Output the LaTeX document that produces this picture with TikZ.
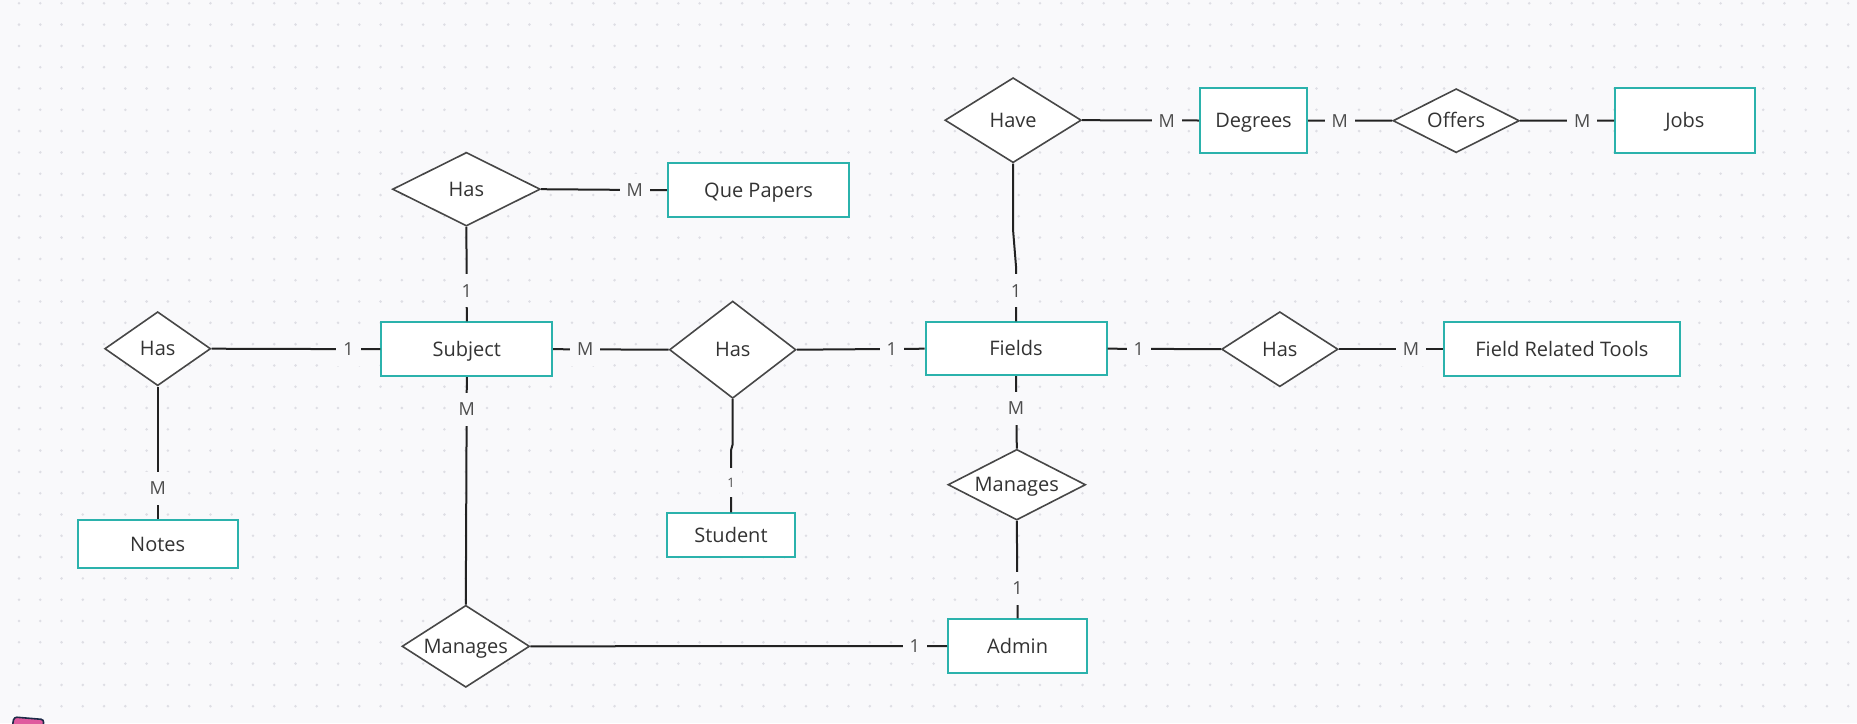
\documentclass[tikz,border=0pt]{standalone}
\usepackage{fontspec}
\setmainfont{Open Sans}
\usetikzlibrary{shapes.geometric,calc}
\definecolor{bgc}{HTML}{F9F9FB}
\definecolor{dotc}{HTML}{DEDEE4}
\definecolor{tealc}{HTML}{2BB2AC}
\definecolor{dgray}{HTML}{474747}
\definecolor{txtc}{HTML}{333333}
\definecolor{lblc}{HTML}{4D4D4D}
\definecolor{lnc}{HTML}{222222}
\definecolor{pinkc}{HTML}{DF5A9E}
\definecolor{navyc}{HTML}{1E2A48}
\newcommand\zwbox[1]{\makebox[0pt]{#1}}
\tikzset{
  entbox/.style 2 args={rectangle, draw=tealc, line width=1pt, fill=white,
    minimum width=#1*0.5pt, minimum height=#2*0.5pt, inner sep=0pt,
    font=\fontsize{10}{12}\selectfont, text=txtc, text height=7.2pt, text depth=0pt},
  relshape/.style 2 args={diamond, draw=dgray, line width=0.8pt, fill=white,
    minimum width=#1*0.5pt, minimum height=#2*0.5pt, inner sep=0pt,
    font=\fontsize{10}{12}\selectfont, text=txtc, text height=7.2pt, text depth=0pt},
  conn/.style={draw=lnc, line width=1pt},
  card/.style={fill=bgc, text=lblc, font=\fontsize{9}{11}\selectfont,
    inner xsep=3.5pt, inner ysep=5pt, text height=6.5pt, text depth=0pt},
  smallcard/.style={card, font=\fontsize{6.5}{8}\selectfont, text height=4.8pt, inner ysep=5pt}
}
\begin{document}
\begin{tikzpicture}[x=0.5pt,y=-0.5pt]
\useasboundingbox (0,0) rectangle (1857,723);
\clip (0,0) rectangle (1857,723);
\fill[bgc] (0,0) rectangle (1857,723);
\foreach \i in {0,...,86}{\foreach \j in {0,...,33}{\fill[dotc] ({19+21.27*\i},{3.3+21.3*\j}) circle (0.7pt);}}

% entities
\node[entbox={170.8}{53.7}] (subj) at (466.8,349.2) {Subject};
\node[entbox={181.4}{54.3}] (qp) at (758.5,190.2) {Que Papers};
\node[entbox={107.4}{64.4}] (deg) at (1253.5,120.5) {Degrees};
\node[entbox={139.5}{64.4}] (jobs) at (1684.9,120.5) {Jobs};
\node[entbox={181}{52.7}] (fld) at (1016,348.7) {Fields};
\node[entbox={235.2}{53.7}] (frt) at (1561.9,349.2) {Field Related Tools};
\node[entbox={159.6}{48.3}] (notes) at (157.7,544.2) {Notes};
\node[entbox={127.3}{44}] (stu) at (731,535.3) {Student};
\node[entbox={139.2}{53.4}] (adm) at (1017.6,646) {Admin};

% relationships
\node[relshape={106}{74}] (hasL) at (157.7,348.7) {\zwbox{Has}};
\node[relshape={147.8}{73.7}] (hasT) at (466.4,189.2) {\zwbox{Has}};
\node[relshape={126.5}{97.3}] (hasM) at (732.7,349.7) {\zwbox{Has}};
\node[relshape={116.4}{75}] (hasR) at (1279.8,349.2) {\zwbox{Has}};
\node[relshape={136.4}{85}] (have) at (1013.1,120.2) {\zwbox{Have}};
\node[relshape={126.4}{64}] (offers) at (1456.2,120.7) {\zwbox{Offers}};
\node[relshape={127.6}{82}] (manL) at (465.8,646.3) {\zwbox{Manages}};
\node[relshape={137.6}{70.7}] (manR) at (1016.8,484.7) {\zwbox{Manages}};

% connectors
\draw[conn] (hasL.east) -- (subj.west);
\draw[conn] (hasL.south) -- (notes.north);
\draw[conn] (hasT.south) -- (subj.north);
\draw[conn] (hasT.east) -- (qp.west);
\draw[conn] (subj.east) -- (hasM.west);
\draw[conn] (hasM.east) -- (fld.west);
\draw[conn] (hasM.south) -- ++(0,45) -- ($(stu.north)+(0,-62)$) -- (stu.north);
\draw[conn] (have.south) -- ++(0,67) -- ($(fld.north)+(0,-55)$) -- (fld.north);
\draw[conn] (have.east) -- (deg.west);
\draw[conn] (deg.east) -- (offers.west);
\draw[conn] (offers.east) -- (jobs.west);
\draw[conn] (fld.east) -- (hasR.west);
\draw[conn] (hasR.east) -- (frt.west);
\draw[conn] (fld.south) -- (manR.north);
\draw[conn] (manR.south) -- (adm.north);
\draw[conn] (subj.south) -- (manL.north);
\draw[conn] (manL.east) -- (adm.west);

% cardinality labels
\node[card] (c1) at ($(subj.west)+(-32,0)$) {1};
\node[card] (c2) at ($(notes.north)+(0,-31)$) {M};
\node[card] (c3) at ($(subj.north)+(0,-30.6)$) {1};
\node[card] (c4) at ($(qp.west)+(-32,0)$) {M};
\node[card] (c5) at ($(subj.east)+(32,0)$) {M};
\node[card] (c6) at ($(fld.west)+(-32.8,0)$) {1};
\node[smallcard] (c7) at ($(stu.north)+(0,-30)$) {1};
\node[card] (c8) at ($(fld.north)+(0,-30.6)$) {1};
\node[card] (c9) at ($(deg.west)+(-32,0)$) {M};
\node[card] (c10) at ($(deg.east)+(31.6,0)$) {M};
\node[card] (c11) at ($(jobs.west)+(-32,0)$) {M};
\node[card] (c12) at ($(fld.east)+(31.2,0)$) {1};
\node[card] (c13) at ($(frt.west)+(-32.3,0)$) {M};
\node[card] (c14) at ($(fld.south)+(0,32.3)$) {M};
\node[card] (c15) at ($(adm.north)+(0,-30)$) {1};
\node[card] (c16) at ($(subj.south)+(0,32.3)$) {M};
\node[card] (c17) at ($(adm.west)+(-32.3,0)$) {1};

% partly visible pink object at the lower left edge
\draw[draw=navyc, fill=pinkc, line width=0.8pt, rounded corners=1.5pt]
  (10,740) -- (14,717) -- (44,719.5) -- (41,742) -- cycle;
\end{tikzpicture}
\end{document}
